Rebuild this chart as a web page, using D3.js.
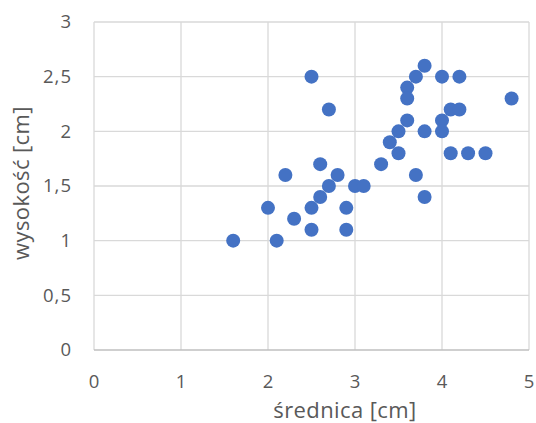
<!DOCTYPE html>
<html><head><meta charset="utf-8">
<script src="https://cdn.jsdelivr.net/npm/d3@7"></script>
<style>body{margin:0;background:#fff}svg{display:block}</style>
</head><body>
<svg id="c" width="536" height="423"></svg>
<script>
const xValues = [1.6,2.0,2.1,2.2,2.3,2.5,2.5,2.5,2.6,2.6,2.7,2.7,2.8,2.9,2.9,3.0,3.1,3.3,3.4,3.5,3.5,3.6,3.6,3.6,3.7,3.7,3.8,3.8,3.8,4.0,4.0,4.0,4.1,4.1,4.2,4.2,4.3,4.5,4.8];
const yValues = [1.0,1.3,1.0,1.6,1.2,2.5,1.3,1.1,1.7,1.4,2.2,1.5,1.6,1.3,1.1,1.5,1.5,1.7,1.9,2.0,1.8,2.4,2.3,2.1,2.5,1.6,2.6,2.0,1.4,2.5,2.1,2.0,2.2,1.8,2.5,2.2,1.8,1.8,2.3];
const xTicks = [0,1,2,3,4,5];
const yTicks = [0,0.5,1,1.5,2,2.5,3];
const xTitle = "średnica [cm]";
const yTitle = "wysokość [cm]";

const svg = d3.select("#c");
const font = "'Open Sans', sans-serif";
const x = d3.scaleLinear().domain([0,5]).range([94,529]);
const y = d3.scaleLinear().domain([0,3]).range([350,22]);
const fmt = d => String(d).replace(".", ",");

// grid
svg.append("g").selectAll("line").data(xTicks).join("line")
  .attr("x1", d=>x(d)).attr("x2", d=>x(d)).attr("y1", y(0)).attr("y2", y(3))
  .attr("stroke", "#d9d9d9").attr("stroke-width", 1.3);
svg.append("g").selectAll("line").data(yTicks).join("line")
  .attr("x1", x(0)).attr("x2", x(5)).attr("y1", d=>y(d)).attr("y2", d=>y(d))
  .attr("stroke", d=> d===0 ? "#bfbfbf" : "#d9d9d9").attr("stroke-width", 1.3);

// axes (labels only)
const xa = svg.append("g").attr("transform", `translate(0,${y(0)})`)
  .call(d3.axisBottom(x).tickValues(xTicks).tickFormat(fmt).tickSize(0).tickPadding(25));
const ya = svg.append("g").attr("transform", `translate(${x(0)},0)`)
  .call(d3.axisLeft(y).tickValues(yTicks).tickFormat(fmt).tickSize(0).tickPadding(22));
[xa, ya].forEach(a => {
  a.select(".domain").remove();
  a.selectAll("text").attr("fill", "#595959").style("font-family", font)
    .style("font-size", "18.5px").style("letter-spacing", "1px");
});

// titles
svg.append("text").attr("x", 345).attr("y", 418).attr("text-anchor", "middle")
  .attr("fill", "#595959").style("font-family", font).style("font-size", "22px")
  .style("letter-spacing", "0.4px").text(xTitle);
svg.append("text").attr("transform", "translate(29,183) rotate(-90)").attr("text-anchor", "middle")
  .attr("fill", "#595959").style("font-family", font).style("font-size", "22px")
  .style("letter-spacing", "0.4px").text(yTitle);

// points
svg.append("g").selectAll("circle").data(xValues.map((v,i)=>[v,yValues[i]])).join("circle")
  .attr("cx", d=>x(d[0])).attr("cy", d=>y(d[1])).attr("r", 7)
  .attr("fill", "#4472c4");
</script>
</body></html>
